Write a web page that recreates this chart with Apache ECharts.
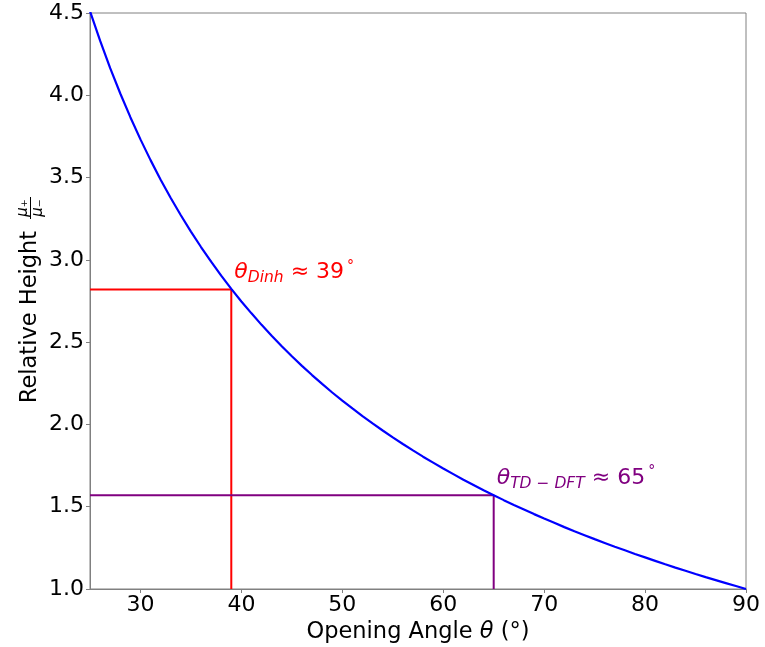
<!DOCTYPE html>
<html>
<head>
<meta charset="utf-8">
<script src="https://cdn.jsdelivr.net/npm/echarts@6/dist/echarts.min.js"></script>
<style>
  html, body { margin: 0; padding: 0; background: #fff; }
  #chart { width: 765px; height: 647px; }
</style>
</head>
<body>
<div id="chart"></div>
<script>
// Opening angle (degrees) and relative height mu+/mu-
const angles = [25, 26, 27, 28, 29, 30, 31, 32, 33, 34, 35, 36, 37, 38, 39, 40, 41, 42, 43, 44,
  45, 46, 47, 48, 49, 50, 51, 52, 53, 54, 55, 56, 57, 58, 59, 60, 61, 62, 63, 64, 65, 66, 67,
  68, 69, 70, 71, 72, 73, 74, 75, 76, 77, 78, 79, 80, 81, 82, 83, 84, 85, 86, 87, 88, 89, 90];
const relHeight = [4.511, 4.332, 4.165, 4.011, 3.867, 3.732, 3.606, 3.487, 3.376, 3.271,
  3.172, 3.078, 2.989, 2.904, 2.824, 2.747, 2.675, 2.605, 2.539, 2.475, 2.414, 2.356, 2.300,
  2.246, 2.194, 2.145, 2.097, 2.050, 2.006, 1.963, 1.921, 1.881, 1.842, 1.804, 1.768, 1.732,
  1.698, 1.664, 1.632, 1.600, 1.570, 1.540, 1.511, 1.483, 1.455, 1.428, 1.402, 1.376, 1.351,
  1.327, 1.303, 1.280, 1.257, 1.235, 1.213, 1.192, 1.171, 1.150, 1.130, 1.111, 1.091, 1.072,
  1.054, 1.036, 1.018, 1.000];

// Marked reference angles and their heights
const dinhAngle = 39, dinhHeight = 2.82;
const tdAngle = 65, tdHeight = 1.57;

const xMin = 25, xMax = 90;
const yMin = 1.0, yMax = 4.5, yStep = 0.5;

const FONT = 'DejaVu Sans';
const GRAY = '#808080';
const TICK_FS = 22;
const TITLE_FS = 22.5;

const curve = angles.map((a, i) => [a, relHeight[i]]);

// Guide lines: horizontal from the y axis to the curve, then down to the x axis
function guide(angle, height, color) {
  return {
    type: 'line',
    data: [[xMin, height], [angle, height], [angle, yMin]],
    showSymbol: false,
    symbol: 'none',
    lineStyle: { color: color, width: 2 },
    z: 2,
    silent: true
  };
}

// Text tag sitting just right of, and above, the guide corner
function tag(angle, height, color, subText, valueText) {
  return {
    type: 'scatter',
    data: [[angle, height]],
    symbolSize: 0,
    itemStyle: { opacity: 1, color: color },
    z: 4,
    silent: true,
    label: {
      show: true,
      opacity: 1,
      position: 'right',
      distance: 3,
      offset: [0, -17],
      formatter: '{t|θ}{s|' + subText + '}{n| ≈ ' + valueText + '}{d|°}',
      rich: {
        t: { fontFamily: FONT, fontStyle: 'italic', fontSize: 22, color: color },
        s: { fontFamily: FONT, fontStyle: 'italic', fontSize: 15.5, color: color, verticalAlign: 'bottom', padding: [11, 0, 0, 0] },
        n: { fontFamily: FONT, fontSize: 22, color: color },
        d: { fontFamily: FONT, fontSize: 14, color: color, verticalAlign: 'top', padding: [0, 0, 10, 3] }
      }
    }
  };
}

const chart = echarts.init(document.getElementById('chart'), null, { renderer: 'canvas' });

chart.setOption({
  backgroundColor: '#ffffff',
  animation: false,
  grid: {
    left: 90, right: 19, top: 13, bottom: 58,
    outerBoundsMode: 'none',
    containLabel: false,
    show: true, borderColor: GRAY, borderWidth: 1, backgroundColor: 'transparent'
  },
  xAxis: {
    type: 'value',
    min: xMin, max: xMax,
    name: 'Opening Angle {i|θ} (°)',
    nameLocation: 'middle',
    nameGap: 31,
    nameTextStyle: {
      fontFamily: FONT, fontSize: TITLE_FS, color: '#000',
      rich: { i: { fontFamily: FONT, fontStyle: 'italic', fontSize: TITLE_FS, color: '#000' } }
    },
    axisLine: { show: true, lineStyle: { color: GRAY, width: 1 } },
    axisTick: { show: true, inside: false, length: 4, lineStyle: { color: GRAY } },
    axisLabel: { fontFamily: FONT, fontSize: TICK_FS, color: '#000', margin: 5, showMinLabel: false },
    splitLine: { show: false }
  },
  yAxis: {
    type: 'value',
    min: yMin, max: yMax, interval: yStep,
    axisLine: { show: true, lineStyle: { color: GRAY, width: 1 } },
    axisTick: { show: true, inside: false, length: 4, lineStyle: { color: GRAY } },
    axisLabel: {
      fontFamily: FONT, fontSize: TICK_FS, color: '#000', margin: 6,
      formatter: v => v.toFixed(1)
    },
    splitLine: { show: false }
  },
  graphic: [
    {
      type: 'text', x: 30, y: 317, rotation: Math.PI / 2,
      style: { text: 'Relative Height', fontFamily: FONT, fontSize: TITLE_FS, fill: '#000', align: 'center', verticalAlign: 'middle' }
    },
    {
      type: 'text', x: 23, y: 208, rotation: Math.PI / 2,
      style: { text: 'μ₊', fontFamily: FONT, fontStyle: 'italic', fontSize: 15, fill: '#000', align: 'center', verticalAlign: 'middle' }
    },
    {
      type: 'line', shape: { x1: 30.5, y1: 219, x2: 30.5, y2: 197 },
      style: { stroke: '#000', lineWidth: 1 }
    },
    {
      type: 'text', x: 38, y: 208, rotation: Math.PI / 2,
      style: { text: 'μ₋', fontFamily: FONT, fontStyle: 'italic', fontSize: 15, fill: '#000', align: 'center', verticalAlign: 'middle' }
    }
  ],
  series: [
    guide(dinhAngle, dinhHeight, '#ff0000'),
    guide(tdAngle, tdHeight, '#800080'),
    {
      type: 'line',
      data: curve,
      showSymbol: false,
      symbol: 'none',
      clip: true,
      lineStyle: { color: '#0000ff', width: 2.2 },
      z: 3
    },
    tag(dinhAngle, dinhHeight, '#ff0000', 'Dinh', '39'),
    tag(tdAngle, tdHeight, '#800080', 'TD − DFT', '65')
  ]
});
</script>
</body>
</html>
